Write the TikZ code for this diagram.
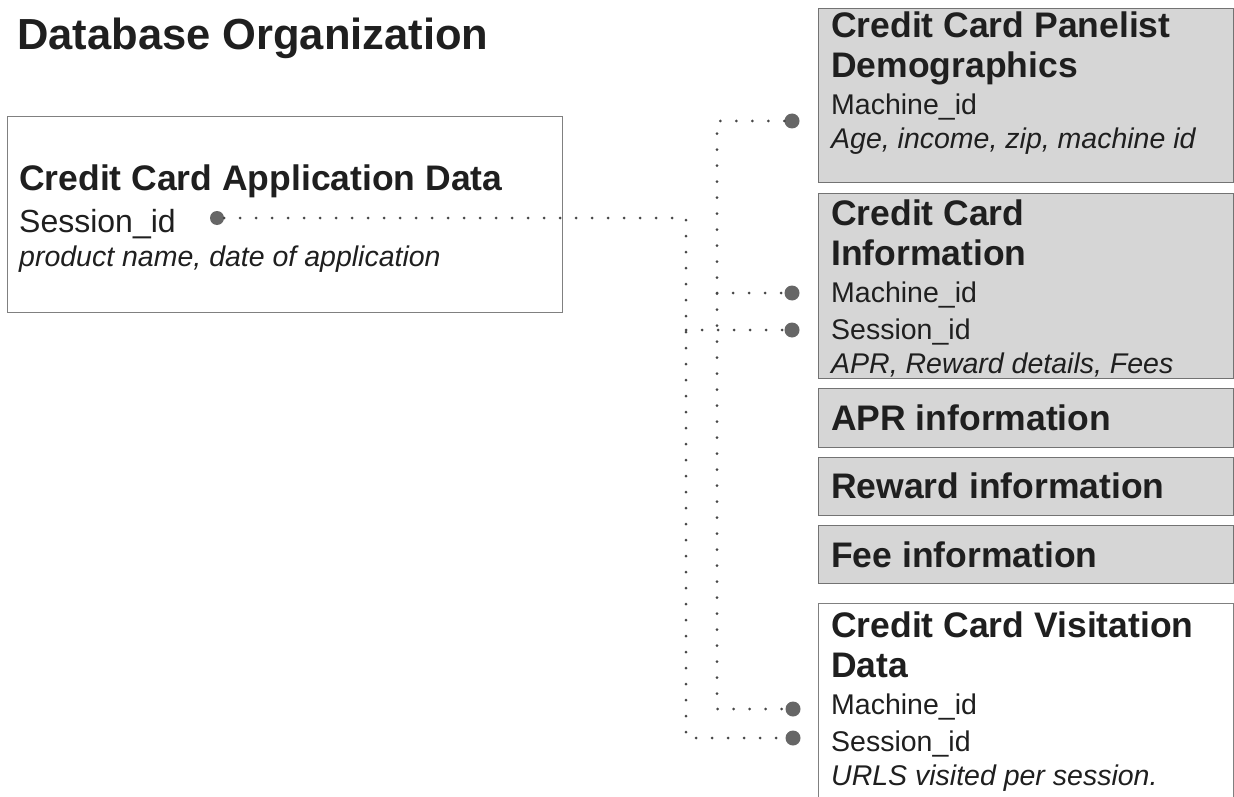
\documentclass[tikz,border=0pt]{standalone}
\usepackage{fontspec}
\setmainfont{Liberation Sans}
\usepackage{tikz}
\usetikzlibrary{
    positioning
}
\setlength{\parindent}{0pt}

\newcommand{\hdfont}{\fontsize{35.5}{40}\selectfont\bfseries\spaceskip=0pt\xspaceskip=0pt}
\newcommand{\rgfont}{\fontsize{28.5}{37}\selectfont\mdseries\upshape\spaceskip=0pt\xspaceskip=0pt}
\newcommand{\itfont}{\fontsize{28.5}{34}\selectfont\mdseries\itshape\spaceskip=0pt\xspaceskip=0pt}

\begin{document}
\begin{tikzpicture}[
    x=1pt, y=-1pt,
    graybox/.style={
        draw=black!55,
        fill=black!16,
        line width=1.2pt,
        inner sep=0pt,
        anchor=north west
    },
    whitebox/.style={
        draw=black!50,
        fill=white,
        line width=0.9pt,
        inner sep=0pt,
        anchor=north west
    },
    boxtext/.style={
        anchor=base west,
        inner sep=0pt,
        text width=395pt,
        text=black!88
    },
    keydot/.style={
        circle,
        fill=black!60,
        inner sep=0pt,
        minimum size=15pt
    },
    link/.style={
        draw=black!72,
        line width=3pt,
        line cap=round,
        dash pattern=on 0pt off 16pt
    }
]

\path[fill=white] (0,0) rectangle (1234,797);
\useasboundingbox (0,0) rectangle (1234,797);

\node[anchor=base west, inner sep=0pt, text=black!88,
      font=\fontsize{43.5}{50}\selectfont\bfseries] (title) at (17,50) {Database Organization};

% left table
\node[whitebox, minimum width=555pt, minimum height=196pt] (appdata) at (7,116) {};
\node[boxtext, text width=530pt] (apptxt) at (19,190) {\hdfont Credit Card Application Data\par
    \fontsize{32}{42}\selectfont\mdseries Session\_id\par
    \itfont product name, date of application\par};

% right tables
\node[graybox, minimum width=415pt, minimum height=174pt] (demog) at (818,8) {};
\node[graybox, minimum width=415pt, minimum height=185pt] (ccinfo) at (818,193) {};
\node[graybox, minimum width=415pt, minimum height=59pt] (aprinfo) at (818,388) {};
\node[graybox, minimum width=415pt, minimum height=58pt] (rewinfo) at (818,457) {};
\node[graybox, minimum width=415pt, minimum height=58pt] (feeinfo) at (818,525) {};
\node[whitebox, minimum width=415pt, minimum height=240pt] (visit) at (818,603) {};

\node[boxtext] (demogtxt) at (831,38) {\hdfont Credit Card Panelist\par Demographics\par
    \rgfont Machine\_id\par \itfont Age, income, zip, machine id\par};
\node[boxtext] (cctxt) at (831,225) {\hdfont Credit Card\par Information\par
    \rgfont Machine\_id\par Session\_id\par \itfont APR, Reward details, Fees\par};
\node[boxtext] (aprtxt) at (831,430) {\hdfont APR information\par};
\node[boxtext] (rewtxt) at (831,498) {\hdfont Reward information\par};
\node[boxtext] (feetxt) at (831,567) {\hdfont Fee information\par};
\node[boxtext] (visittxt) at (831,637) {\hdfont Credit Card Visitation\par Data\par
    \rgfont Machine\_id\par Session\_id\par \itfont URLS visited per session.\par};

% key dots
\node[keydot, minimum size=14pt] (appsess) at (217,218) {};
\node[keydot] (demogmach) at (792,121) {};
\node[keydot] (ccmach) at (792,293) {};
\node[keydot] (ccsess) at (792,330) {};
\node[keydot] (visitmach) at (793,709) {};
\node[keydot] (visitsess) at (793,738) {};

\coordinate (sesstop) at (686,218);
\coordinate (sessbot) at (686,738);
\coordinate (machtop) at (717,121);
\coordinate (machbot) at (717,709);

% session links
\draw[link] (appsess) -- (sesstop) -- (sessbot) -- (visitsess);
\draw[link] (sesstop |- ccsess) -- (ccsess);

% machine links
\draw[link] (demogmach) -- (machtop) -- (machbot) -- (visitmach);
\draw[link] (machtop |- ccmach) -- (ccmach);

\end{tikzpicture}
\end{document}
